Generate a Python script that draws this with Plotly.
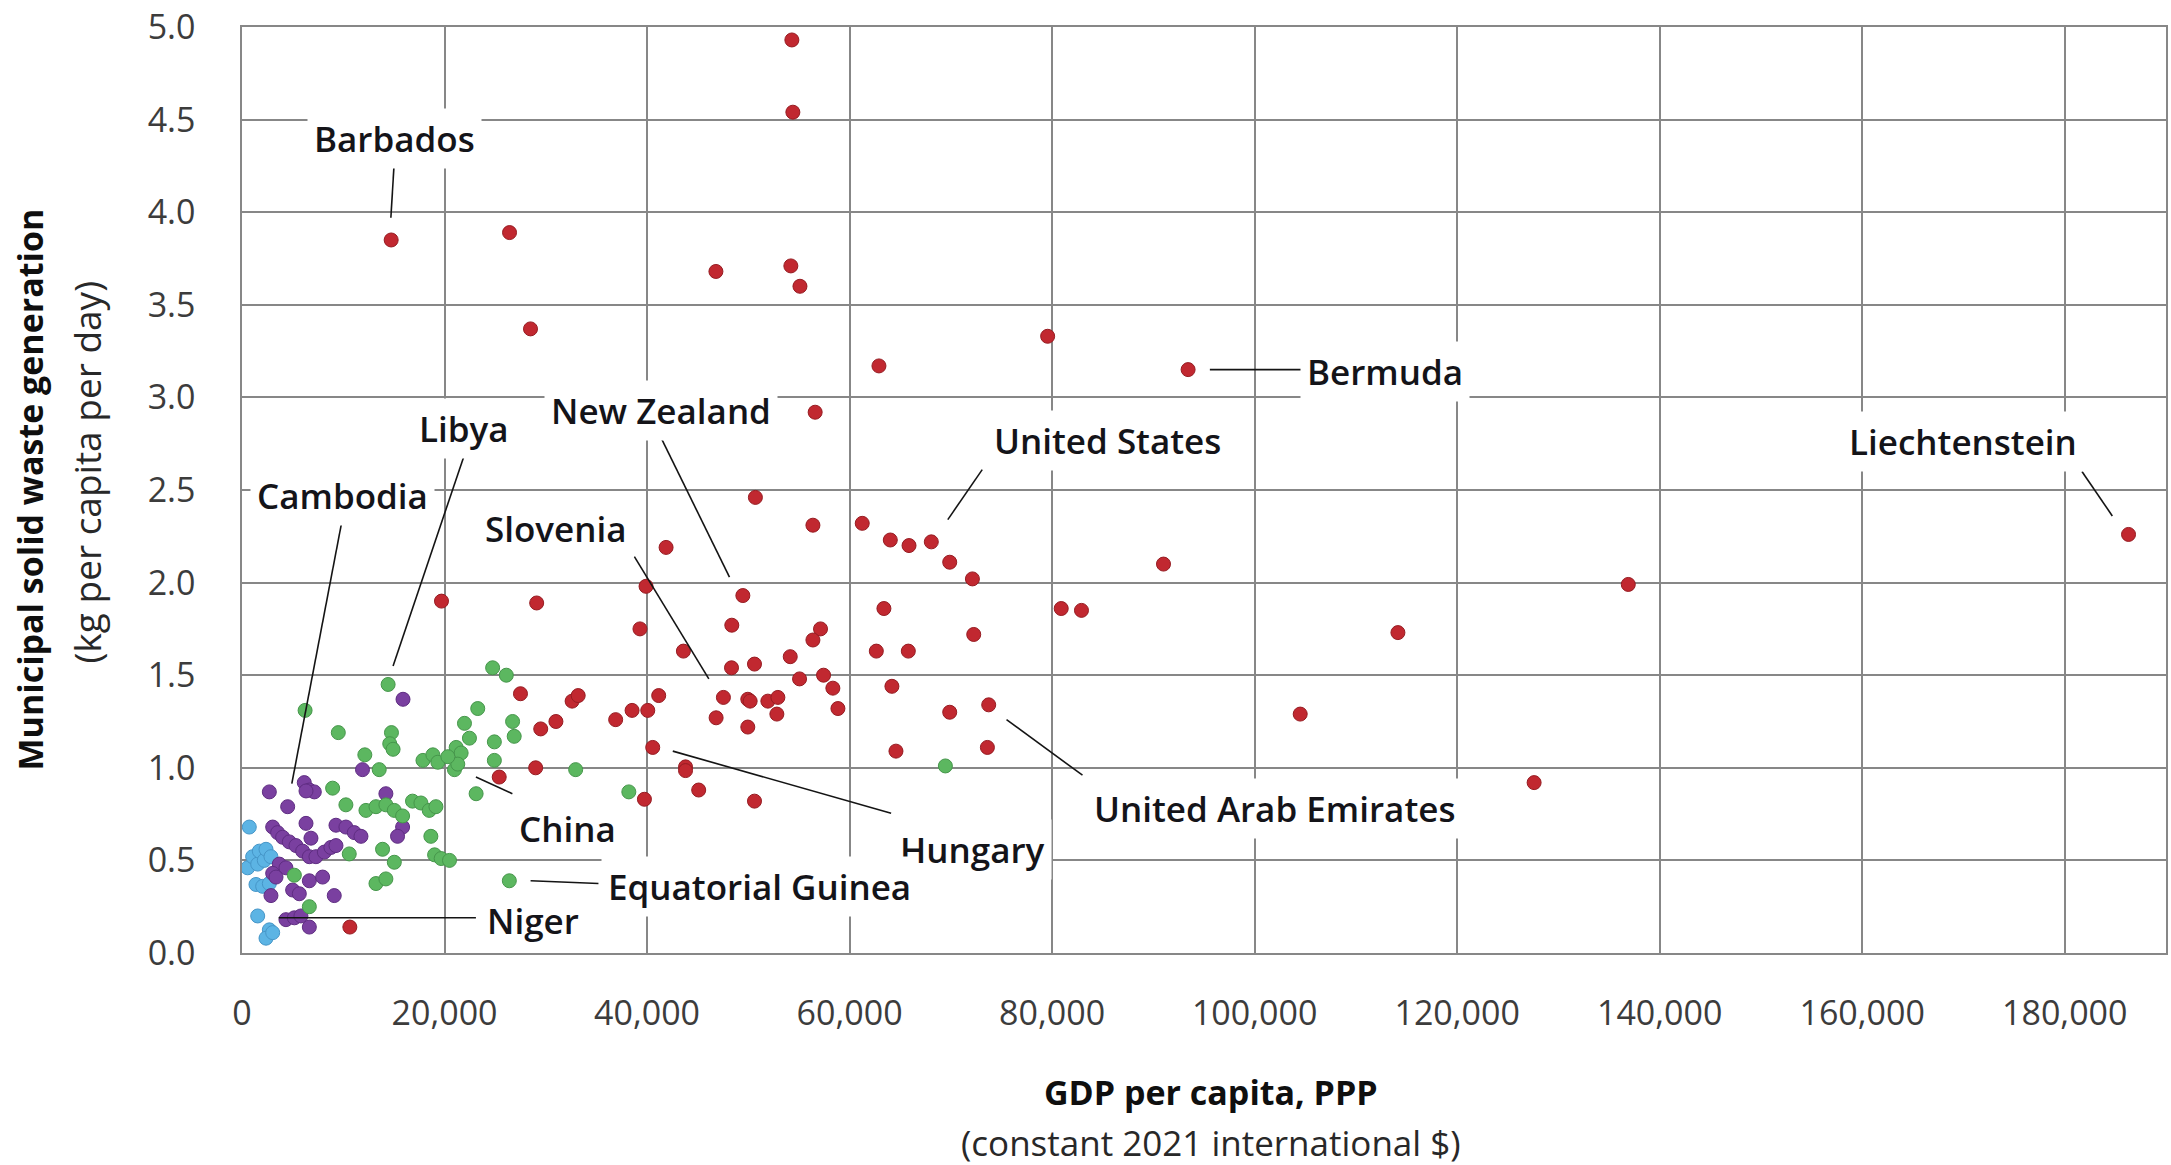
import plotly.graph_objects as go

# GDP per capita (PPP, constant 2021 int. $) and municipal solid waste (kg/capita/day)
low_gdp = [720, 560, 1050, 1550, 1710, 2200, 2370, 2860, 1380, 2040, 2700, 1550, 2700, 2370, 3030]
low_msw = [0.68, 0.46, 0.52, 0.48, 0.55, 0.50, 0.56, 0.52, 0.37, 0.36, 0.375, 0.20, 0.125, 0.08, 0.11]

lower_mid_gdp = [2700, 4510, 6150, 6650, 7140, 6320, 6320, 3030, 3520, 4010, 4670, 5330, 5990,
                 6650, 7300, 8130, 8780, 9280, 6810, 9280, 10260, 11090, 11750, 11900, 14210,
                 15860, 15360, 3680, 4340, 3030, 3360, 2860, 5000, 5660, 6650, 7960, 9110,
                 4340, 5170, 5820, 6650, 15900]
lower_mid_msw = [0.87, 0.79, 0.92, 0.88, 0.87, 0.875, 0.70, 0.68, 0.65, 0.625, 0.60, 0.58, 0.55,
                 0.52, 0.52, 0.545, 0.57, 0.58, 0.62, 0.69, 0.68, 0.65, 0.63, 0.99, 0.86,
                 0.68, 0.63, 0.48, 0.46, 0.43, 0.41, 0.31, 0.34, 0.32, 0.39, 0.41, 0.31,
                 0.18, 0.19, 0.20, 0.14, 1.37]

upper_mid_gdp = [6230, 9510, 14430, 14760, 14590, 14920, 12130, 13550,
                 8950, 10260, 12240, 13230, 14210, 15040, 15860, 16840, 17670, 18490, 19150,
                 18650, 19020, 19670, 20490, 10590, 13880, 15040,
                 5170, 6650, 13230, 14210,
                 17870, 18850, 19340, 20980, 21150, 21640, 21310, 20330,
                 21970, 22460, 23280, 24920, 24920, 26720, 26880, 24750, 26100,
                 23120, 32950, 38200, 26400, 69460]
upper_mid_msw = [1.31, 1.19, 1.45, 1.19, 1.13, 1.10, 1.07, 0.99,
                 0.89, 0.80, 0.77, 0.79, 0.80, 0.77, 0.74, 0.82, 0.81, 0.77, 0.79,
                 0.63, 0.53, 0.51, 0.50, 0.535, 0.56, 0.49,
                 0.42, 0.25, 0.375, 0.40,
                 1.04, 1.07, 1.03, 0.99, 1.11, 1.08, 1.02, 1.06,
                 1.24, 1.16, 1.32, 1.14, 1.04, 1.25, 1.17, 1.54, 1.50,
                 0.86, 0.99, 0.87, 0.39, 1.01]

high_gdp = [54300, 54400, 46800, 54200, 55100, 14730, 26420, 28490, 79560, 62900, 93430,
            56600, 50700, 56380, 61250, 64020, 65870, 68070, 69890, 72130,
            91000, 80900, 82900, 136900, 114150, 104500, 127600, 186300,
            41880, 39900, 49460, 39300, 48370, 57130, 56380, 63390, 72260,
            43590, 48340, 50610, 54140, 62640, 65800,
            55060, 57430, 58350, 58850, 64180,
            41150, 38520, 40070, 36900,
            47540, 46820, 49950, 50180, 49950, 51930, 52920, 52820,
            69890, 73740, 73610, 64580, 40560, 43800, 43800, 45100, 50610, 39740,
            19700, 29100, 27500, 32600, 33200, 29500, 31000, 29000, 25400, 10650]
high_msw = [4.93, 4.54, 3.68, 3.71, 3.60, 3.85, 3.89, 3.37, 3.33, 3.17, 3.15,
            2.92, 2.46, 2.31, 2.32, 2.23, 2.20, 2.22, 2.11, 2.02,
            2.10, 1.86, 1.85, 1.99, 1.73, 1.29, 0.92, 2.26,
            2.19, 1.98, 1.93, 1.75, 1.77, 1.75, 1.69, 1.86, 1.72,
            1.63, 1.54, 1.56, 1.60, 1.63, 1.63,
            1.48, 1.50, 1.43, 1.32, 1.44,
            1.39, 1.31, 1.31, 1.26,
            1.38, 1.27, 1.37, 1.36, 1.22, 1.36, 1.38, 1.29,
            1.30, 1.34, 1.11, 1.09, 1.11, 1.005, 0.985, 0.88, 0.82, 0.83,
            1.90, 1.89, 1.40, 1.36, 1.39, 1.21, 1.25, 1.00, 0.95, 0.14]

groups = [
    ("Low income", low_gdp, low_msw, "rgb(92,180,228)", "rgb(70,150,200)"),
    ("Lower-middle income", lower_mid_gdp, lower_mid_msw, "rgb(122,64,160)", "rgb(95,45,130)"),
    ("Upper-middle income", upper_mid_gdp, upper_mid_msw, "rgb(92,183,96)", "rgb(70,150,75)"),
    ("High income", high_gdp, high_msw, "rgb(193,40,48)", "rgb(150,28,34)"),
]

# Country callouts: label text, label position, leader line start and end
callouts = [
    ("Barbados", 15100, 4.40, (15000, 4.24), (14700, 3.97)),
    ("Libya", 21900, 2.83, (21900, 2.68), (14920, 1.55)),
    ("Cambodia", 9960, 2.47, (10000, 2.37), (4920, 0.915)),
    ("New Zealand", 41350, 2.93, (41400, 2.78), (48140, 2.03)),
    ("Slovenia", 30980, 2.29, (38750, 2.14), (46100, 1.48)),
    ("United States", 85450, 2.77, (73100, 2.61), (69700, 2.34)),
    ("Bermuda", 112900, 3.14, (95580, 3.15), (104640, 3.15)),
    ("Liechtenstein", 169940, 2.76, (181700, 2.60), (184700, 2.36)),
    ("China", 32150, 0.67, (23100, 0.95), (26700, 0.86)),
    ("United Arab Emirates", 101930, 0.78, (75500, 1.26), (83000, 0.96)),
    ("Hungary", 72130, 0.56, (42540, 1.09), (64100, 0.755)),
    ("Equatorial Guinea", 51100, 0.36, (28500, 0.39), (35200, 0.375)),
    ("Niger", 28690, 0.175, (3620, 0.19), (23100, 0.19)),
]

x_ticks = [0, 20000, 40000, 60000, 80000, 100000, 120000, 140000, 160000, 180000]
y_ticks = [0.0, 0.5, 1.0, 1.5, 2.0, 2.5, 3.0, 3.5, 4.0, 4.5, 5.0]

FONT = "Open Sans"
GRID = "rgb(135,135,135)"

fig = go.Figure()
for name, xs, ys, fill, edge in groups:
    fig.add_trace(go.Scatter(
        x=xs, y=ys, mode="markers", name=name,
        marker=dict(size=14, color=fill, line=dict(color=edge, width=1)),
        showlegend=False,
    ))

for text, tx, ty, p0, p1 in callouts:
    fig.add_shape(type="line", xref="x", yref="y", x0=p0[0], y0=p0[1], x1=p1[0], y1=p1[1],
                  line=dict(color="rgb(20,20,20)", width=1.6), layer="above")
    fig.add_annotation(x=tx, y=ty, xref="x", yref="y", text=text, showarrow=False,
                       xanchor="center", yanchor="middle", bgcolor="white", borderpad=6,
                       font=dict(family=FONT, size=35, color="rgb(20,20,25)", weight=600))

# Axis titles
fig.add_annotation(xref="paper", yref="paper", x=0.5036, y=-0.150, text="<b>GDP per capita, PPP</b>",
                   showarrow=False, xanchor="center", yanchor="middle",
                   font=dict(family=FONT, size=34, color="rgb(15,15,15)"))
fig.add_annotation(xref="paper", yref="paper", x=0.5036, y=-0.2045,
                   text="(constant 2021 international $)", showarrow=False,
                   xanchor="center", yanchor="middle",
                   font=dict(family=FONT, size=35, color="rgb(40,40,40)"))
fig.add_annotation(xref="paper", yref="paper", x=-0.110, y=0.501,
                   text="<b>Municipal solid waste generation</b>", textangle=-90,
                   showarrow=False, xanchor="center", yanchor="middle",
                   font=dict(family=FONT, size=34, color="rgb(15,15,15)"))
fig.add_annotation(xref="paper", yref="paper", x=-0.081, y=0.519,
                   text="(kg per capita per day)", textangle=-90,
                   showarrow=False, xanchor="center", yanchor="middle",
                   font=dict(family=FONT, size=37, color="rgb(40,40,40)"))

fig.update_xaxes(range=[0, 190000], tickvals=x_ticks,
                 ticktext=[f"{v:,}" for v in x_ticks],
                 showgrid=True, gridcolor=GRID, gridwidth=1.5, zeroline=False,
                 showline=True, linecolor=GRID, linewidth=1.5, mirror=True,
                 ticks="", ticklabelstandoff=29,
                 tickfont=dict(family=FONT, size=34, color="rgb(60,60,60)"))
fig.update_yaxes(range=[0, 5], tickvals=y_ticks,
                 ticktext=[f"{v:.1f}" for v in y_ticks],
                 showgrid=True, gridcolor=GRID, gridwidth=1.5, zeroline=False,
                 showline=True, linecolor=GRID, linewidth=1.5, mirror=True,
                 ticks="", ticklabelstandoff=38,
                 tickfont=dict(family=FONT, size=34, color="rgb(60,60,60)"))

fig.update_layout(
    width=2171, height=1165,
    margin=dict(l=242, r=3, t=25, b=212),
    paper_bgcolor="white", plot_bgcolor="white",
    font=dict(family=FONT),
)

fig.write_html("out.html", include_plotlyjs=True, full_html=True,
               config={"displayModeBar": False})
